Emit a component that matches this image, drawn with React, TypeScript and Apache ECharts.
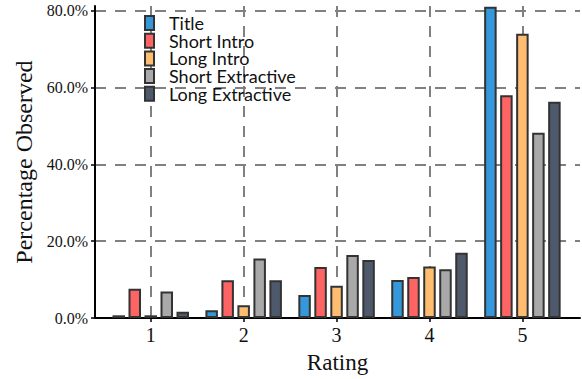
import React, { useEffect, useRef } from "react";
import * as echarts from "echarts";

const ratings = [1, 2, 3, 4, 5];
const seriesNames = ["Title", "Short Intro", "Long Intro", "Short Extractive", "Long Extractive"];
const titleVals = [0.7, 2.0, 6.0, 9.9, 81.0];
const shortIntroVals = [7.6, 9.8, 13.3, 10.7, 58.0];
const longIntroVals = [0.7, 3.3, 8.4, 13.4, 74.0];
const shortExtractiveVals = [6.9, 15.5, 16.4, 12.7, 48.2];
const longExtractiveVals = [1.6, 9.8, 15.1, 17.0, 56.3];
const yTicks = [0, 20, 40, 60, 80];
const colors = ["#3498db", "#ff6464", "#ffbd72", "#a9a9a9", "#4e5a6c"];

const allVals = [titleVals, shortIntroVals, longIntroVals, shortExtractiveVals, longExtractiveVals];

export default function App() {
  const ref = useRef<HTMLDivElement>(null);
  useEffect(() => {
    if (!ref.current) return;
    const chart = echarts.init(ref.current, null, { renderer: "svg" });
    const serif = "Liberation Serif";
    chart.setOption({
      animation: false,
      backgroundColor: "#ffffff",
      grid: { left: 95, right: 2, top: 6, bottom: 61, containLabel: false },
      legend: {
        orient: "vertical",
        left: 139,
        top: 9,
        itemWidth: 9,
        itemHeight: 14,
        itemGap: -0.3,
        icon: "rect",
        itemStyle: { borderColor: "#333333", borderWidth: 2, borderType: "solid" },
        textStyle: { fontFamily: "Lato", fontSize: 18, color: "#111", lineHeight: 14, padding: [0, 0, 0, 10] },
        data: seriesNames,
      },
      xAxis: {
        type: "value",
        min: 0.4,
        max: 5.62,
        name: "Rating",
        nameLocation: "middle",
        nameGap: 33,
        nameTextStyle: { fontFamily: serif, fontSize: 23, color: "#111" },
        axisLine: { show: true, onZero: false, lineStyle: { color: "#000", width: 2 } },
        axisTick: { show: true, inside: false, length: 4, customValues: ratings, lineStyle: { color: "#000", width: 1.5 } },
        axisLabel: { customValues: ratings, margin: 7, fontFamily: serif, fontSize: 20, color: "#111" },
        splitLine: { show: true, lineStyle: { color: "#808080", width: 2, type: [11, 9] } },
      },
      yAxis: {
        type: "value",
        min: 0,
        max: 81.2,
        name: "Percentage Observed",
        nameLocation: "middle",
        nameGap: 59,
        nameTextStyle: { fontFamily: serif, fontSize: 24, color: "#111" },
        axisLine: { show: true, lineStyle: { color: "#000", width: 2 } },
        axisTick: { show: true, inside: false, length: 4, customValues: yTicks, lineStyle: { color: "#000", width: 1.5 } },
        axisLabel: {
          customValues: yTicks,
          margin: 7,
          fontFamily: serif,
          fontSize: 16,
          color: "#111",
          formatter: (v: number) => v.toFixed(1) + "%",
        },
        splitLine: { show: true, lineStyle: { color: "#808080", width: 2, type: [11, 9] } },
      },
      series: seriesNames.map((name, i) => ({
        name,
        type: "bar",
        barWidth: 12.5,
        barGap: "28%",
        itemStyle: { color: colors[i], borderColor: "#333333", borderWidth: 2, borderType: "solid" },
        data: ratings.map((r, j) => [r, allVals[i][j]]),
      })),
    });
    return () => chart.dispose();
  }, []);
  return <div ref={ref} style={{ width: 582, height: 379, position: "absolute", left: 0, top: 0 }} />;
}
